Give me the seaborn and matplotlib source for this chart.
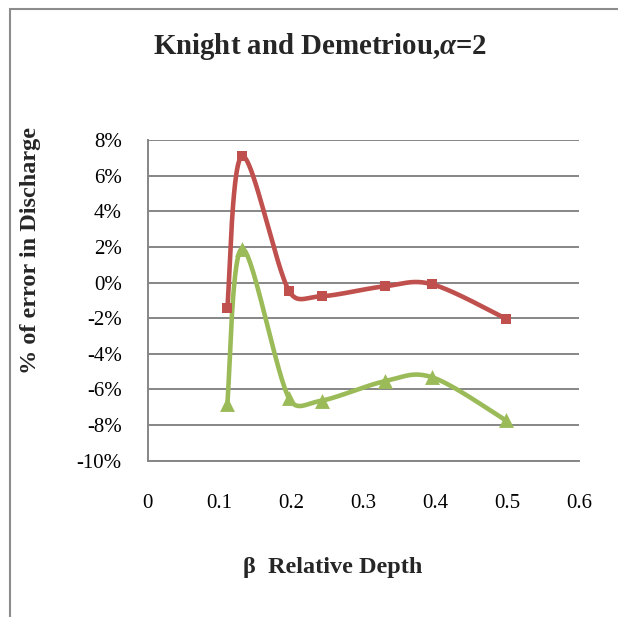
import numpy as np
import pandas as pd
import matplotlib
matplotlib.use("Agg")
import matplotlib.pyplot as plt
from matplotlib.ticker import PercentFormatter
from matplotlib.patches import Rectangle
import seaborn as sns

# ---- data ----
beta = [0.111, 0.1316, 0.1965, 0.242, 0.330, 0.396, 0.498]
err_red = [-1.42, 7.1, -0.45, -0.77, -0.21, -0.10, -2.02]      # % error
err_green = [-6.8, 1.9, -6.48, -6.63, -5.54, -5.32, -7.73]     # % error
x_ticks = [0, 0.1, 0.2, 0.3, 0.4, 0.5, 0.6]
y_ticks = [-10, -8, -6, -4, -2, 0, 2, 4, 6, 8]
title = "Knight and Demetriou,$\\mathit{\\alpha}$=2"
xlabel = "β  Relative Depth"
ylabel = "% of error in Discharge"

RED = "#C0504D"
GREEN = "#9BBB59"
GRID = "#868686"

sns.set_theme(style="white")
plt.rcParams["font.family"] = ["Liberation Serif", "DejaVu Serif"]
plt.rcParams["mathtext.fontset"] = "custom"
plt.rcParams["mathtext.it"] = "Liberation Serif:italic:bold"
plt.rcParams["mathtext.rm"] = "Liberation Serif:bold"
plt.rcParams["axes.unicode_minus"] = False

fig = plt.figure(figsize=(6.18, 6.17), dpi=100)
ax = fig.add_axes([147.5 / 618, 1 - 460.7 / 617, (579 - 147.5) / 618, (460.7 - 140) / 617])
ax.set_xlim(0, 0.6)
ax.set_ylim(-0.10, 0.08)

# outer chart frame
fig.patches.append(Rectangle((10 / 618, -0.05), 1.2, 1 - 9 / 617 + 0.05,
                             transform=fig.transFigure, fill=False,
                             edgecolor="#8c8c8c", linewidth=1.5))


def excel_smooth(xs, ys, n=50):
    # Bezier smoothing in display space, control arms limited to half a segment
    pts = ax.transData.transform(np.column_stack([xs, ys]))
    out = []
    m = len(pts)

    def arm(vec, seg_len):
        L = np.hypot(*vec) / 6.0
        if L > 0.5 * seg_len and L > 0:
            vec = vec * (0.5 * seg_len / L)
        return vec / 6.0

    for i in range(m - 1):
        p0 = pts[i - 1] if i > 0 else pts[i]
        p1 = pts[i]
        p2 = pts[i + 1]
        p3 = pts[i + 2] if i + 2 < m else pts[i + 1]
        seg = np.hypot(*(p2 - p1))
        c1 = p1 + arm(p2 - p0, seg)
        c2 = p2 - arm(p3 - p1, seg)
        t = np.linspace(0, 1, n)[:, None]
        bz = ((1 - t) ** 3) * p1 + 3 * ((1 - t) ** 2) * t * c1 + 3 * (1 - t) * t ** 2 * c2 + t ** 3 * p2
        out.append(bz if i == 0 else bz[1:])
    out = np.vstack(out)
    return ax.transData.inverted().transform(out)


for vals, col, mk, ms in [(err_red, RED, "s", 55), (err_green, GREEN, "^", 115)]:
    yv = np.array(vals) / 100.0
    curve = excel_smooth(np.array(beta), yv)
    df = pd.DataFrame({"x": curve[:, 0], "y": curve[:, 1]})
    sns.lineplot(data=df, x="x", y="y", sort=False, estimator=None, ax=ax,
                 color=col, linewidth=3.3, zorder=3)
    sns.scatterplot(x=beta, y=yv, marker=mk, s=ms, color=col, edgecolor=col,
                    linewidth=0, ax=ax, zorder=4)

ax.set_xticks(x_ticks)
ax.set_xticklabels([f"{v:g}" for v in x_ticks])
ax.set_yticks([v / 100 for v in y_ticks])
ax.yaxis.set_major_formatter(PercentFormatter(xmax=1, decimals=0))
ax.yaxis.grid(True, color=GRID, linewidth=1.4)
ax.xaxis.grid(False)
for s in ["top", "right"]:
    ax.spines[s].set_visible(False)
for s in ["left", "bottom"]:
    ax.spines[s].set_color(GRID)
    ax.spines[s].set_linewidth(1.4)
ax.tick_params(axis="both", which="major", direction="out", length=5, width=1.2,
               color=GRID, labelsize=15, labelcolor="black")
ax.tick_params(axis="y", pad=13.5)
ax.tick_params(axis="x", pad=19)
ax.set_xlabel("")
ax.set_ylabel("")

fig.text(320 / 618, 1 - 47 / 617, title, ha="center", va="center",
         fontsize=20.8, fontweight="bold")
fig.text(333 / 618, 1 - 568 / 617, xlabel, ha="center", va="center",
         fontsize=17.5, fontweight="bold")
fig.text(31 / 618, 1 - 251 / 617, ylabel, ha="center", va="center",
         fontsize=17.5, fontweight="bold", rotation=90)

fig.savefig("out.png", dpi=100)
